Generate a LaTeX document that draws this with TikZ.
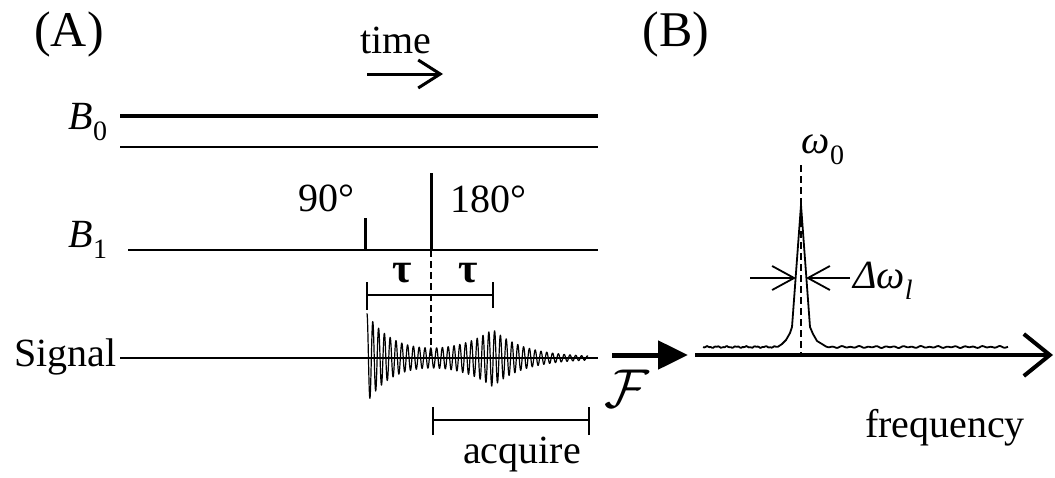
\documentclass[tikz,border=0pt]{standalone}
\usepackage{fontspec}
\setmainfont{Liberation Serif}
\usetikzlibrary{arrows.meta}
\newcommand{\subtxt}[1]{\raisebox{-0.28em}{\fontsize{28}{30}\selectfont #1}}
\begin{document}
\begin{tikzpicture}[x=1pt,y=-1pt,
  lbl/.style={inner sep=0pt, font=\fontsize{40}{44}\selectfont},
  big/.style={inner sep=0pt, font=\fontsize{50}{54}\selectfont},
  heavy/.style={line width=4pt},
  plain/.style={line width=1.8pt},
  pulse/.style={line width=3pt},
  dashln/.style={line width=1.4pt, dash pattern=on 7pt off 4pt},
  sig/.style={line width=1.2pt, line join=round},
  spec/.style={line width=1.8pt, line join=round},
  barb/.style={-{Straight Barb[length=22pt,width=28pt]}},
  smallbarb/.style={-{Straight Barb[length=22pt,width=24pt]}}]
\useasboundingbox (0,0) rectangle (1055,477);

% labels
\node[big] (A) at (69,34) {(A)};
\node[big] (B) at (676,34) {(B)};
\node[lbl] (time) at (396,40) {time};
\node[lbl] (B0) at (88,122) {\textit{B}\subtxt{0}};
\node[lbl] (B1) at (88,240) {\textit{B}\subtxt{1}};
\node[lbl,anchor=east] (sigl) at (117,357) {Signal};
\node[lbl] (p90) at (326,198) {90°};
\node[lbl] (p180) at (488,199) {180°};
\node[lbl,font=\fontsize{42}{44}\selectfont\bfseries] (tau1) at (402,273) {τ};
\node[lbl,font=\fontsize{42}{44}\selectfont\bfseries] (tau2) at (468,273) {τ};
\node[lbl] (acq) at (522,455) {acquire};
\node[lbl] (FT) at (627,389) {\scalebox{2.2}{$\mathcal{F}$}};
\node[lbl] (freq) at (945,428) {frequency};
\node[lbl] (w0) at (823,150) {\textit{ω}\subtxt{0}};
\node[lbl,anchor=west] (dw) at (853,281) {\textit{Δω}\subtxt{\itshape l}};

% coordinates
\coordinate (ta) at (367,74); \coordinate (tb) at (443,74);
\coordinate (b0a) at (120,116); \coordinate (b0b) at (598,116);
\coordinate (b0c) at (120,147); \coordinate (b0d) at (598,147);
\coordinate (b1a) at (128,250); \coordinate (b1b) at (598,250);
\coordinate (p90b) at (365,250); \coordinate (p90t) at (365,218);
\coordinate (p180b) at (431,250); \coordinate (p180t) at (431,173);
\coordinate (sa) at (120,358); \coordinate (sb) at (598,358);
\coordinate (echoTop) at (431,250); \coordinate (echoBot) at (431,358);
\coordinate (tl) at (367,295); \coordinate (tr) at (493,295);
\coordinate (al) at (433,420); \coordinate (ar) at (589,420);
\coordinate (fa) at (612,355); \coordinate (fb) at (688,355);
\coordinate (xa) at (695,355); \coordinate (xb) at (1053,355);
\coordinate (w0t) at (801,165); \coordinate (w0b) at (801,355);
\coordinate (dl1) at (750,278); \coordinate (dl2) at (796,278);
\coordinate (dr1) at (850,278); \coordinate (dr2) at (806,278);

% time arrow
\draw[line width=3pt, barb] (ta) -- (tb);
% B0 lines
\draw[heavy] (b0a) -- (b0b);
\draw[plain] (b0c) -- (b0d);
% B1 line and pulses
\draw[plain] (b1a) -- (b1b);
\draw[pulse] (p90b) -- (p90t);
\draw[pulse] (p180b) -- (p180t);
% tau bracket
\draw[plain] (tl) -- (tr);
\draw[plain] ([yshift=-15pt]tl) -- ([yshift=13pt]tl);
\draw[plain] ([yshift=-13pt]tr) -- ([yshift=13pt]tr);
% signal line
\draw[plain] (sa) -- (sb);
\draw[dashln] (echoTop) -- (echoBot);
% FID (decay) + echo (before and after centre)
\draw[sig] plot[domain=367:493, samples=520]
  (\x, {358 - (43*exp(-(\x-367)/27) + 28*exp(-(493-\x)/38) + 0.6)*cos((\x-367)*62.069)})
  -- plot[domain=493:588, samples=400]
  (\x, {358 - (28*exp(-(\x-493)/32) + 0.6)*cos((\x-367)*62.069)});
% acquire bracket
\draw[plain] (al) -- (ar);
\draw[plain] ([yshift=-15pt]al) -- ([yshift=13pt]al);
\draw[plain] ([yshift=-15pt]ar) -- ([yshift=13pt]ar);
% Fourier arrow
\draw[line width=5pt, -{Triangle[length=30pt,width=28pt]}] (fa) -- (fb);
% frequency axis
\draw[heavy, -{Straight Barb[length=26pt,width=42pt]}] (xa) -- (xb);
% spectrum
\draw[spec] plot[domain=703:778, samples=60] (\x, {347 + 0.6*sin(37*(\x-700)) + 0.4*sin(91*(\x-700))})
  -- (782,344) -- (786,340) -- (790,333) -- (792,327) -- (801,205) -- (810,327)
  -- (813,334) -- (817,341) -- (822,344)
  -- plot[domain=826:1008, samples=150] (\x, {347 + 0.6*sin(41*(\x-800)) + 0.4*sin(23*(\x-800))});
\draw[dashln] (w0t) -- (w0b);
% linewidth arrows
\draw[line width=1.8pt, smallbarb] (dl1) -- (dl2);
\draw[line width=1.8pt, smallbarb] (dr1) -- (dr2);
\end{tikzpicture}
\end{document}
